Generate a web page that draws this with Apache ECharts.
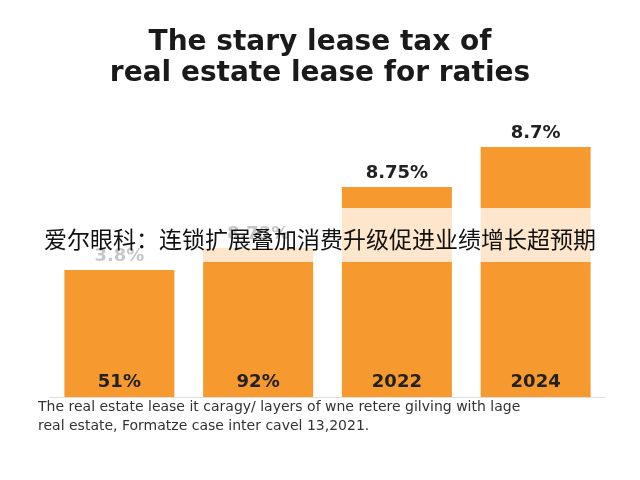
<!DOCTYPE html>
<html><head><meta charset="utf-8">
<script src="https://cdn.jsdelivr.net/npm/echarts@6/dist/echarts.min.js"></script>
<style>html,body{margin:0;padding:0;background:#fff}#c{width:640px;height:480px}</style>
</head><body><div id="c"></div>
<script>
const categories = ['51%', '92%', '2022', '2024'];
const values = [127, 149, 210, 250];
const topLabels = ['3.8%', '8.73%', '8.75%', '8.7%'];
const titleLines = ['The stary lease tax of', 'real estate lease for raties'];
const caption = ['The real estate lease it caragy/ layers of wne retere gilving with lage', 'real estate, Formatze case inter cavel 13,2021.'];
const overlayText = '爱尔眼科：连锁扩展叠加消费升级促进业绩增长超预期';

const chart = echarts.init(document.getElementById('c'));
chart.setOption({
  backgroundColor: '#fff',
  title: {
    text: titleLines.join('\n'), left: 'center', top: 22,
    textStyle: { fontFamily: 'DejaVu Sans', fontWeight: 'bold', fontSize: 28, lineHeight: 31, color: '#1a1a1a' }
  },
  grid: { left: 50, right: 35, top: 147, bottom: 83 },
  xAxis: {
    type: 'category', data: categories,
    axisLine: { lineStyle: { color: '#ddd' } }, axisTick: { show: false },
    axisLabel: { inside: true, margin: 6, fontFamily: 'DejaVu Sans', fontWeight: 'bold', fontSize: 18, color: '#222' },
    z: 10
  },
  yAxis: { type: 'value', min: 0, max: 250, show: false, splitLine: { show: false } },
  series: [{
    type: 'bar', data: values, barWidth: 110,
    itemStyle: { color: '#F69A30' },
    label: {
      show: true, position: 'top', distance: 5,
      formatter: p => topLabels[p.dataIndex],
      fontFamily: 'DejaVu Sans', fontWeight: 'bold', fontSize: 18, color: '#222'
    }
  }],
  graphic: [
    { type: 'rect', shape: { x: 0, y: 208, width: 640, height: 54 }, style: { fill: 'rgba(255,255,255,0.75)' }, z: 100 },
    { type: 'text', left: 'center', top: 228, style: { text: overlayText, font: '23px "Noto Sans CJK SC"', fill: '#111' }, z: 101 },
    { type: 'text', left: 38, top: 398, style: { text: caption.join('\n'), font: '14px "DejaVu Sans"', lineHeight: 19, fill: '#333' }, z: 101 }
  ]
});
</script></body></html>
